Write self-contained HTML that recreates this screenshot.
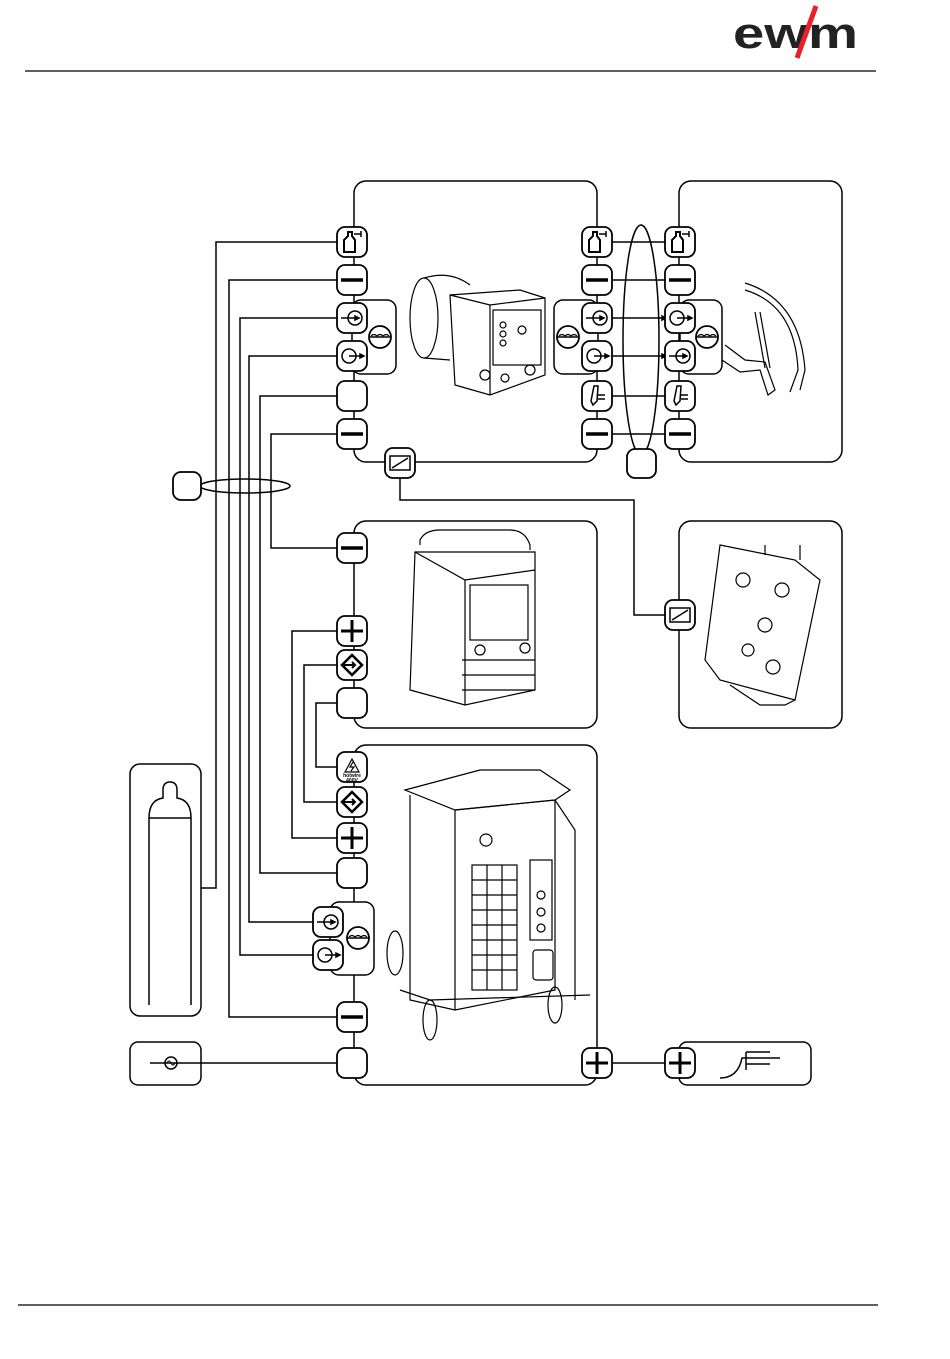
<!DOCTYPE html>
<html><head><meta charset="utf-8"><style>html,body{margin:0;padding:0;background:#fff}svg{display:block}</style></head>
<body>
<svg width="950" height="1359" viewBox="0 0 950 1359" xmlns="http://www.w3.org/2000/svg" fill="none" stroke="#000" stroke-width="1.5" font-family="Liberation Sans, sans-serif">
<defs>
<g id="sq"><rect x="-15" y="-15" width="30" height="30" rx="8" fill="#fff" stroke-width="1.8"/></g>
<g id="minus"><use href="#sq"/><line x1="-11" y1="0" x2="11" y2="0" stroke-width="3.5"/></g>
<g id="plus"><use href="#sq"/><line x1="-11" y1="0" x2="11" y2="0" stroke-width="3"/><line x1="0" y1="-11" x2="0" y2="11" stroke-width="3"/></g>
<g id="gas"><use href="#sq"/><path d="M-8 10 V-2 L-4 -6 V-10 H0 V-6 L3 -2 V10 Z" stroke-width="2"/><path d="M2 -8 H9 M9 -11 V-5" stroke-width="1.5"/></g>
<g id="cin"><use href="#sq"/><circle cx="3" cy="0" r="7"/><path d="M-11 0 H6" /><path d="M3 -2 L7 0 L3 2Z" fill="#000"/></g>
<g id="cout"><use href="#sq"/><circle cx="-3" cy="0" r="7"/><path d="M-3 0 H10"/><path d="M8 -2 L12 0 L8 2Z" fill="#000"/></g>
<g id="torch"><use href="#sq"/><path d="M-4 9 L-6 5 L-3 -10 L1 -10 L0 5 Z"/><path d="M1 -1 H8 M1 3 H8"/></g>
<g id="diam"><use href="#sq"/><path d="M0 -10 L10 0 L0 10 L-10 0 Z" stroke-width="2.5"/><path d="M-8 0 H3 M0 -3 L3 0 L0 3" stroke-width="2"/></g>
<g id="rc"><use href="#sq"/><rect x="-10" y="-7" width="20" height="14" stroke-width="1.5"/><path d="M-8 5 L8 -5"/></g>
<g id="wave"><circle cx="0" cy="0" r="11" stroke-width="1.8"/><path d="M-11 0 H11" stroke-width="1.5"/><path d="M-9 -1 q3 -3 6 0 q3 -3 6 0 q3 -3 6 0" stroke-width="1.2"/></g>
</defs>

<!-- header logo -->
<text x="733" y="48" font-size="44" font-weight="bold" fill="#222" stroke="none" textLength="125" lengthAdjust="spacingAndGlyphs">ewm</text>
<path d="M816 6 L797 58" stroke="#e8202a" stroke-width="5"/>
<line x1="25" y1="71" x2="876" y2="71" stroke-width="1.2"/>
<line x1="18" y1="1305" x2="878" y2="1305" stroke-width="1.2"/>

<!-- boxes -->
<rect x="354" y="181" width="243" height="281" rx="12"/>
<rect x="679" y="181" width="163" height="281" rx="12"/>
<rect x="354" y="521" width="243" height="207" rx="12"/>
<rect x="679" y="521" width="163" height="207" rx="12"/>
<rect x="354" y="745" width="243" height="340" rx="12"/>
<rect x="130" y="764" width="71" height="252" rx="10"/>
<rect x="130" y="1042" width="71" height="43" rx="8"/>
<rect x="679" y="1042" width="132" height="43" rx="8"/>

<!-- cooling group boxes -->
<rect x="352" y="300" width="44" height="74" rx="9" fill="#fff"/>
<use href="#wave" x="380" y="337"/>
<rect x="554" y="300" width="44" height="74" rx="9" fill="#fff"/>
<use href="#wave" x="568" y="337"/>
<rect x="680" y="300" width="42" height="74" rx="9" fill="#fff"/>
<use href="#wave" x="707" y="337"/>
<rect x="330" y="902" width="44" height="73" rx="9" fill="#fff"/>
<use href="#wave" x="358" y="938"/>

<!-- left wiring -->
<path d="M338 242 H216 V888 H201"/>
<path d="M338 280 H229 V1017 H338"/>
<path d="M338 318 H240 V955 H314"/>
<path d="M338 356 H249 V922 H314"/>
<path d="M338 396 H260 V873 H338"/>
<path d="M338 434 H271 V548 H338"/>
<path d="M338 631 H292 V838 H338"/>
<path d="M338 665 H304 V802 H338"/>
<path d="M338 703 H316 V767 H338"/>
<path d="M150 1063 H338"/>
<path d="M597 1063 H680"/>
<path d="M400 478 V500 H634 V615 H666"/>
<ellipse cx="245" cy="486" rx="45" ry="7"/>
<rect x="173" y="472" width="28" height="28" rx="8" fill="#fff" stroke-width="1.8"/>

<!-- feeder to torch -->
<path d="M612 242 H666 M612 280 H666 M612 396 H666 M612 434 H666 M612 318 H666 M612 356 H666"/>
<path d="M662 316 L666 318 L662 320Z M662 354 L666 356 L662 358Z" fill="#000"/>
<ellipse cx="641" cy="340" rx="18" ry="115"/>
<rect x="627" y="449" width="29" height="29" rx="8" fill="#fff" stroke-width="1.8"/>

<!-- feeder left connectors -->
<use href="#gas" x="352" y="242"/>
<use href="#minus" x="352" y="280"/>
<use href="#cin" x="352" y="318"/>
<use href="#cout" x="352" y="356"/>
<use href="#sq" x="352" y="396"/>
<use href="#minus" x="352" y="434"/>
<use href="#rc" x="400" y="463"/>
<!-- feeder right -->
<use href="#gas" x="597" y="242"/>
<use href="#minus" x="597" y="280"/>
<use href="#cin" x="597" y="318"/>
<use href="#cout" x="597" y="356"/>
<use href="#torch" x="597" y="396"/>
<use href="#minus" x="597" y="434"/>
<!-- torch -->
<use href="#gas" x="680" y="242"/>
<use href="#minus" x="680" y="280"/>
<use href="#cout" x="680" y="318"/>
<use href="#cin" x="680" y="356"/>
<use href="#torch" x="680" y="396"/>
<use href="#minus" x="680" y="434"/>
<!-- middle -->
<use href="#minus" x="352" y="548"/>
<use href="#plus" x="352" y="631"/>
<use href="#diam" x="352" y="665"/>
<use href="#sq" x="352" y="703"/>
<use href="#rc" x="680" y="615"/>
<!-- big -->
<use href="#sq" x="352" y="767"/>
<path d="M345 772 L352 759 L359 772 Z M353 762 L350 767 L354 767 L351 771" stroke-width="1.2"/>
<text x="352" y="777" font-size="5" font-weight="bold" text-anchor="middle" fill="#000" stroke="none">hotwire</text>
<text x="352" y="782" font-size="5" font-weight="bold" text-anchor="middle" fill="#000" stroke="none">400V</text>
<use href="#diam" x="352" y="802"/>
<use href="#plus" x="352" y="838"/>
<use href="#sq" x="352" y="873"/>
<use href="#cin" x="328" y="922"/>
<use href="#cout" x="328" y="955"/>
<use href="#minus" x="352" y="1017"/>
<use href="#sq" x="352" y="1063"/>
<use href="#plus" x="597" y="1063"/>
<use href="#plus" x="680" y="1063"/>

<!-- mains symbol -->
<circle cx="171" cy="1063" r="6"/><path d="M167 1063 q2 -4 4 0 q2 4 4 0" stroke-width="1"/>
<!-- workpiece -->
<path d="M720 1078 Q738 1078 742 1058 H780 M746 1052 H770 M746 1064 H770 M746 1052 V1070"/>
<!-- gas cylinder -->
<path d="M149 1005 V818 Q149 800 163 798 V790 Q163 782 170 782 Q177 782 177 790 V798 Q191 800 191 818 V1005"/>
<path d="M149 818 H191"/>

<!-- wire feeder drawing -->
<g stroke-width="1.2">
<ellipse cx="424" cy="318" rx="14" ry="40"/>
<path d="M424 278 Q450 270 470 285 M424 358 L450 360"/>
<path d="M450 295 L520 290 L545 298 L545 375 L490 395 L455 385 Z"/>
<path d="M450 295 L490 305 L545 298 M490 305 V395"/>
<rect x="493" y="310" width="48" height="55"/>
<circle cx="503" cy="325" r="3"/><circle cx="503" cy="334" r="3"/><circle cx="503" cy="343" r="3"/><circle cx="522" cy="330" r="4"/>
<circle cx="485" cy="375" r="5"/><circle cx="530" cy="370" r="5"/><circle cx="505" cy="378" r="4"/>
</g>
<!-- torch drawing -->
<g stroke-width="1.2">
<path d="M745 283 Q800 300 805 370 L800 390 M745 290 Q795 305 798 370 L790 392"/>
<path d="M755 312 L765 368 M760 312 L770 368"/>
<path d="M725 345 L745 360 L765 362 L775 390 L768 395 L760 370 L740 372 L722 360"/>
</g>
<!-- middle power source -->
<g stroke-width="1.2">
<path d="M420 545 V540 Q425 530 440 530 H510 Q525 530 530 545 V550"/>
<path d="M415 552 H535 V690 L465 705 L410 690 Z"/>
<path d="M465 580 V705 M415 552 L465 580 L535 570"/>
<rect x="470" y="585" width="58" height="55"/>
<path d="M462 660 H535 M462 675 H535 M462 690 H535"/>
<circle cx="480" cy="650" r="5"/><circle cx="525" cy="648" r="5"/>
</g>
<!-- remote control drawing -->
<g stroke-width="1.2">
<path d="M720 545 L795 560 L820 580 L795 700 L720 680 L705 660 Z"/>
<path d="M765 545 V555 M800 545 V560"/>
<circle cx="743" cy="580" r="7"/><circle cx="782" cy="590" r="7"/><circle cx="765" cy="625" r="7"/><circle cx="748" cy="650" r="6"/><circle cx="773" cy="667" r="7"/>
<path d="M730 685 L760 705 H785 L795 700"/>
</g>
<!-- main unit drawing -->
<g stroke-width="1.2">
<path d="M405 790 L480 770 H540 L570 790 L555 800 L455 810 Z"/>
<path d="M410 795 V1000 L455 1010 V810 M455 810 L555 800 V990 L455 1010"/>
<path d="M555 800 L575 830 V1000"/>
<rect x="472" y="865" width="45" height="125"/>
<path d="M472 880 H517 M472 895 H517 M472 910 H517 M472 925 H517 M472 940 H517 M472 955 H517 M472 970 H517 M487 865 V990 M502 865 V990"/>
<rect x="530" y="860" width="22" height="80"/>
<circle cx="541" cy="895" r="4"/><circle cx="541" cy="912" r="4"/><circle cx="541" cy="928" r="4"/>
<rect x="533" y="950" width="20" height="30" rx="3"/>
<circle cx="486" cy="840" r="6"/>
<ellipse cx="395" cy="953" rx="8" ry="22"/>
<ellipse cx="430" cy="1020" rx="7" ry="20"/><ellipse cx="555" cy="1005" rx="7" ry="18"/>
<path d="M400 990 L430 1000 L590 995"/>
</g>
</svg>
</body></html>
